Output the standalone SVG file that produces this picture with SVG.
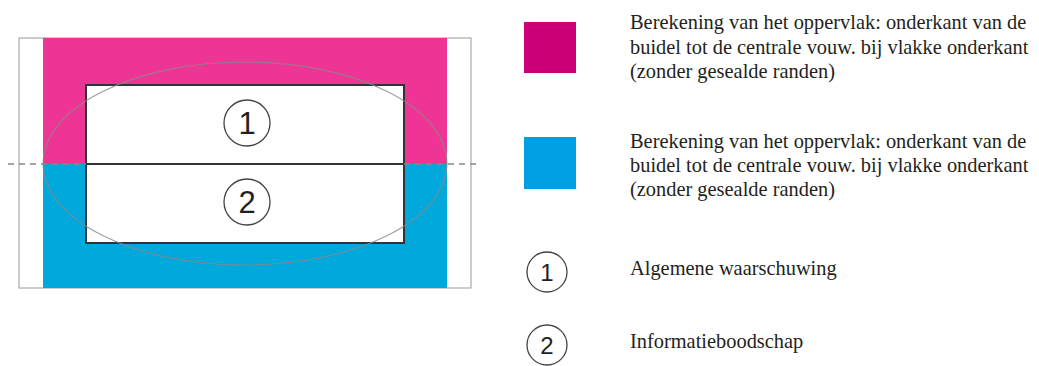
<svg xmlns="http://www.w3.org/2000/svg" width="1039" height="366" viewBox="0 0 1039 366">
<style>
.lt{font-family:"Liberation Serif","Times New Roman",serif;font-size:20.4px;fill:#231f20}
.num{font-family:"Liberation Sans",Arial,sans-serif;fill:#231f20;text-anchor:middle}
.circ{fill:#fff;stroke:#444;stroke-width:1.3}
</style>
<rect width="1039" height="366" fill="#fff"/>
<g id="pouch">
<rect x="19" y="38" width="452" height="250" fill="#fff" stroke="#aaa" stroke-width="1.2"/>
<rect x="43" y="38" width="404" height="126" fill="#ee3596"/>
<rect x="43" y="164" width="404" height="124" fill="#00a8dc"/>
<rect x="86" y="85" width="318" height="158" fill="#fff" stroke="#333" stroke-width="2"/>
<ellipse cx="245" cy="163.5" rx="202" ry="101.5" fill="none" stroke="#888" stroke-width="1.2" opacity="0.8"/>
</g>
<g id="connectors">
<line x1="8" y1="164" x2="480" y2="164" stroke="#888" stroke-width="1.3" stroke-dasharray="6,5"/>
<line x1="86" y1="164" x2="404" y2="164" stroke="#333" stroke-width="2"/>
</g>
<g id="area1">
<circle class="circ" cx="247" cy="123" r="23"/>
<text class="num" x="247" y="134" font-size="31">1</text>
</g>
<g id="area2">
<circle class="circ" cx="247" cy="202" r="23"/>
<text class="num" x="247" y="213" font-size="31">2</text>
</g>
<g id="legend-pink">
<rect x="524" y="22" width="52" height="51" fill="#cc0077"/>
<text class="lt" x="630" y="29">Berekening van het oppervlak: onderkant van de</text>
<text class="lt" x="630" y="54">buidel tot de centrale vouw. bij vlakke onderkant</text>
<text class="lt" x="630" y="78">(zonder gesealde randen)</text>
</g>
<g id="legend-blue">
<rect x="524" y="137" width="52" height="52" fill="#00a0e3"/>
<text class="lt" x="630" y="148">Berekening van het oppervlak: onderkant van de</text>
<text class="lt" x="630" y="172">buidel tot de centrale vouw. bij vlakke onderkant</text>
<text class="lt" x="630" y="196">(zonder gesealde randen)</text>
</g>
<g id="legend-1">
<circle class="circ" cx="547" cy="272" r="20"/>
<text class="num" x="547" y="281" font-size="24">1</text>
<text class="lt" x="630" y="275">Algemene waarschuwing</text>
</g>
<g id="legend-2">
<circle class="circ" cx="547" cy="345" r="20"/>
<text class="num" x="547" y="354" font-size="24">2</text>
<text class="lt" x="630" y="348">Informatieboodschap</text>
</g>
</svg>
